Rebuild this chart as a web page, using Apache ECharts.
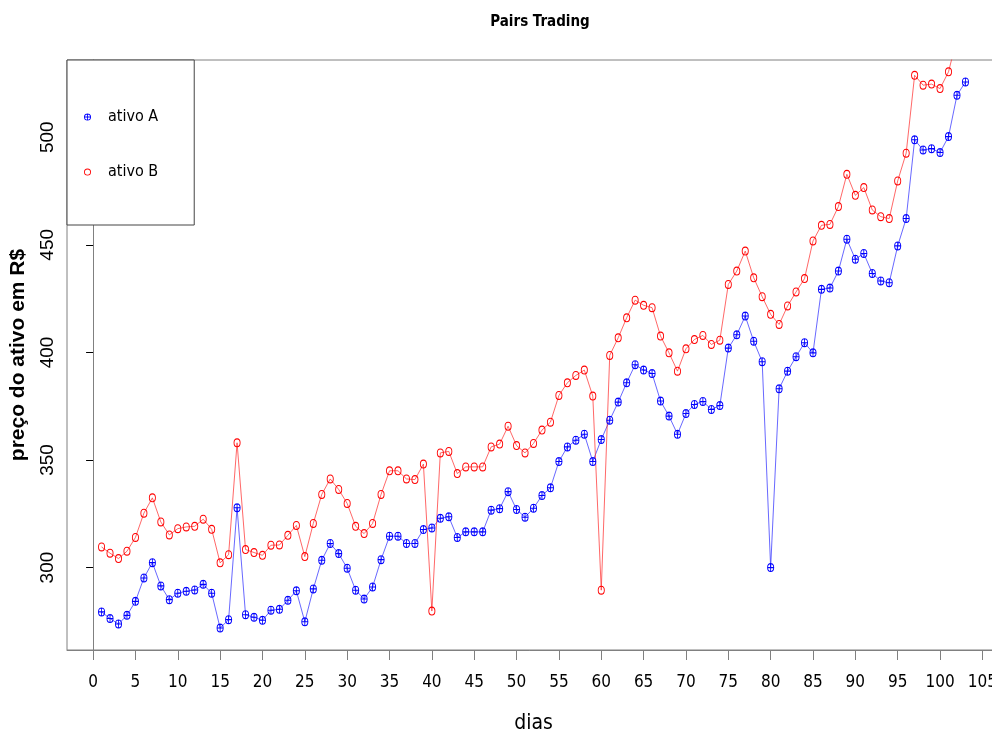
<!DOCTYPE html>
<html>
<head>
<meta charset="utf-8">
<script src="https://cdn.jsdelivr.net/npm/echarts@6/dist/echarts.min.js"></script>
<style>
  html, body { margin: 0; padding: 0; background: #fff; }
  #chart { width: 992px; height: 736px; }
</style>
</head>
<body>
<div id="chart"></div>
<script>
// precos, dias 1..103
const ativoA = [
  279.4, 276.3, 273.8, 277.8, 284.3, 295.2, 302.3, 291.5, 285.1, 288.1,
  289.0, 289.6, 292.2, 288.1, 271.9, 275.8, 327.8, 278.1, 276.9, 275.5,
  280.2, 280.6, 284.8, 289.2, 274.8, 290.1, 303.4, 311.2, 306.5, 299.7,
  289.5, 285.4, 291.0, 303.7, 314.6, 314.6, 311.2, 311.2, 317.7, 318.4,
  322.9, 323.6, 314.0, 316.6, 316.6, 316.6, 326.7, 327.4, 335.3, 327.0,
  323.4, 327.6, 333.5, 337.1, 349.3, 356.1, 359.2, 362.0, 349.3, 359.5,
  368.5, 376.9, 385.9, 394.3, 391.8, 390.2, 377.4, 370.4, 362.0, 371.6,
  375.8, 377.2, 373.5, 375.3, 402.0, 408.2, 416.9, 405.2, 395.7, 300.0,
  383.1, 391.3, 398.0, 404.5, 399.8, 429.3, 429.9, 437.8, 452.6, 443.3,
  446.0, 436.7, 433.2, 432.4, 449.5, 462.2, 498.8, 494.1, 494.7, 492.9,
  500.3, 519.5, 525.7
]
const ativoB = [
  309.6, 306.7, 304.2, 307.6, 314.0, 325.3, 332.4, 321.2, 315.2, 318.1,
  318.9, 319.2, 322.5, 317.8, 302.2, 306.0, 358.0, 308.4, 307.0, 305.7,
  310.4, 310.5, 315.0, 319.6, 305.1, 320.5, 334.0, 341.2, 336.3, 329.8,
  319.2, 315.8, 320.5, 334.0, 345.0, 345.0, 341.2, 340.9, 348.1, 279.8,
  353.3, 354.0, 343.7, 346.8, 346.8, 346.8, 356.1, 357.4, 365.7, 356.7,
  353.3, 357.7, 363.9, 367.6, 380.0, 385.9, 389.3, 391.8, 379.7, 289.5,
  398.6, 406.8, 416.1, 424.3, 421.9, 420.8, 407.6, 399.8, 391.3, 401.7,
  406.0, 407.9, 403.7, 405.7, 431.6, 437.8, 447.1, 434.7, 425.9, 417.7,
  413.0, 421.6, 428.1, 434.3, 451.8, 459.1, 459.5, 467.8, 482.8, 473.0,
  476.6, 466.2, 463.1, 462.2, 479.7, 492.6, 528.8, 524.2, 524.7, 522.6,
  530.4, 546.0, 551.0
]
const dias = ativoA.map((_, i) => i + 1)
const xTicks = [0, 5, 10, 15, 20, 25, 30, 35, 40, 45, 50, 55, 60, 65, 70, 75, 80, 85, 90, 95, 100, 105]
const yTicks = [300, 350, 400, 450, 500]

const narrow = "'Liberation Sans Narrow', 'DejaVu Sans Condensed', sans-serif"
const plain = "'Liberation Sans', Arial, sans-serif"
const ring = 'path://M0,10A10,10 0 1,1 20,10A10,10 0 1,1 0,10ZM2.5,10A7.5,7.5 0 1,0 17.5,10A7.5,7.5 0 1,0 2.5,10Z'
const ringPlus = ring + 'M8.8,0L11.2,0L11.2,20L8.8,20ZM0,8.8L20,8.8L20,11.2L0,11.2Z'
const frame = '#808080'

const chart = echarts.init(document.getElementById('chart'))

const option = {
  animation: false,
  backgroundColor: '#fff',
  title: {
    text: 'Pairs Trading',
    left: 535,
    textAlign: 'center',
    top: 10,
    textStyle: { fontFamily: narrow, fontWeight: 'bold', fontSize: 15, color: '#000' }
  },
  legend: {
    orient: 'vertical',
    left: 67,
    top: 60,
    padding: [49, 36, 45, 17],
    itemGap: 39,
    itemWidth: 7,
    itemHeight: 9,
    borderColor: '#444',
    borderWidth: 1,
    backgroundColor: '#fff',
    textStyle: { fontFamily: narrow, fontSize: 16, color: '#000', padding: [0, 0, 0, 12] },
    data: [
      { name: 'ativo A', icon: ringPlus },
      { name: 'ativo B', icon: ring }
    ]
  },
  // the plot box runs past the right edge of the picture
  grid: {
    left: 67,
    top: 60,
    width: 933,
    bottom: 86,
    outerBoundsMode: 'none',
    show: true,
    borderColor: frame,
    borderWidth: 1
  },
  xAxis: {
    type: 'value',
    min: -3.08,
    max: 107.08,
    name: 'dias',
    nameLocation: 'middle',
    nameGap: 63,
    nameTextStyle: { fontFamily: narrow, fontSize: 21, color: '#000' },
    axisLine: { show: true, lineStyle: { color: frame } },
    axisTick: { show: true, customValues: xTicks, length: 10, lineStyle: { color: frame } },
    axisLabel: { customValues: xTicks, margin: 24, fontFamily: narrow, fontSize: 17, color: '#000' },
    splitLine: { show: false }
  },
  yAxis: {
    type: 'value',
    min: 261.7,
    max: 535.9,
    name: 'preço do ativo em R$',
    nameLocation: 'middle',
    nameRotate: 90,
    nameGap: 38,
    nameTextStyle: { fontFamily: plain, fontWeight: 'bold', fontSize: 21, color: '#000' },
    axisLine: { show: true, lineStyle: { color: frame } },
    axisTick: { show: true, customValues: yTicks, length: 7, lineStyle: { color: '#000' } },
    axisLabel: { customValues: yTicks, rotate: 90, margin: 10, fontFamily: plain, fontSize: 19, color: '#000' },
    splitLine: { show: false }
  },
  series: [
    {
      name: 'ativo A',
      type: 'line',
      data: dias.map((d, i) => [d, ativoA[i]]),
      symbol: ringPlus,
      symbolSize: [7, 9],
      itemStyle: { color: '#0000ff' },
      lineStyle: { color: 'rgba(40,40,255,0.7)', width: 1 },
      clip: true
    },
    {
      name: 'ativo B',
      type: 'line',
      data: dias.map((d, i) => [d, ativoB[i]]),
      symbol: ring,
      symbolSize: [7, 9],
      itemStyle: { color: '#ff0000' },
      lineStyle: { color: 'rgba(255,40,40,0.7)', width: 1 },
      clip: true
    }
  ]
}

chart.setOption(option)
</script>
</body>
</html>
